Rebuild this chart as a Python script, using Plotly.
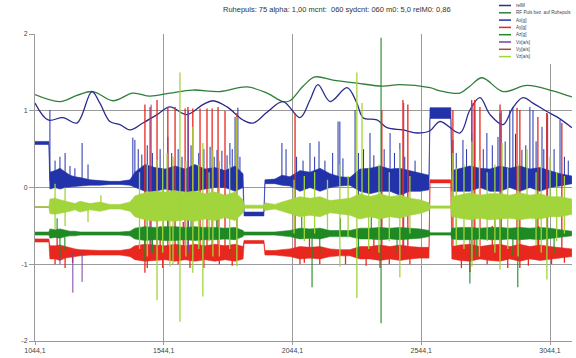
import numpy as np
import plotly.graph_objects as go

# ---------------- data ----------------
title_text = "Ruhepuls: 75 alpha: 1,00 mcnt:  060 sydcnt: 060 m0: 5,0 relM0: 0,86"
x_tickvals = [1044.1, 1544.1, 2044.1, 2544.1, 3044.1]
x_ticktext = ["1044,1", "1544,1", "2044,1", "2544,1", "3044,1"]
y_tickvals = [-2, -1, 0, 1, 2]
y_ticktext = ["-2", "-1", "0", "1", "2"]
x_range = [1044.1, 3129.5]

series_names = ["relM", "RF Puls bez. auf Ruhepuls", "Ax[g]", "Ay[g]", "Az[g]",
                "Vx[a/s]", "Vy[a/s]", "Vz[a/s]"]
series_colors = ["#2b2b8f", "#2f7f3a", "#2233aa", "#e8281e", "#1f8a24",
                 "#7b3fa6", "#a0522d", "#a2d43c"]

# smooth curves
relm_x = [1044, 1095, 1153, 1207, 1265, 1296, 1335, 1374, 1413, 1463, 1518, 1568, 1634,
          1696, 1735, 1790, 1852, 1891, 1945, 2007, 2073, 2112, 2143, 2190, 2256, 2294,
          2318, 2372, 2411, 2473, 2528, 2578, 2617, 2694, 2733, 2772, 2811, 2862, 2900,
          2939, 2978, 3032, 3071, 3129]
relm_y = [1.10, 0.88, 0.91, 0.84, 1.25, 1.10, 0.86, 0.82, 0.75, 0.84, 0.95, 1.05, 0.95,
          1.08, 1.13, 1.05, 0.88, 0.84, 0.98, 1.12, 0.91, 1.14, 1.34, 1.12, 1.30, 1.10,
          0.91, 0.88, 0.78, 0.75, 0.71, 0.74, 0.86, 0.71, 1.01, 1.17, 0.95, 0.82, 1.04,
          1.17, 1.10, 0.99, 0.92, 0.78]

rf_x = [1044, 1141, 1207, 1269, 1347, 1424, 1491, 1568, 1657, 1762, 1867, 1945, 2007,
        2034, 2085, 2131, 2201, 2294, 2395, 2461, 2578, 2617, 2694, 2733, 2780, 2862,
        2955, 3055, 3129]
rf_y = [1.21, 1.12, 1.20, 1.25, 1.13, 1.23, 1.19, 1.23, 1.27, 1.25, 1.31, 1.23, 1.12,
        1.13, 1.32, 1.44, 1.40, 1.36, 1.32, 1.34, 1.30, 1.26, 1.23, 1.32, 1.43, 1.25,
        1.33, 1.26, 1.18]

# envelope knots of the dense noisy signals
knots = [1044, 1098, 1102, 1122, 1141, 1161, 1180, 1199, 1219, 1258, 1296, 1335, 1374,
         1413, 1432, 1471, 1510, 1549, 1588, 1627, 1665, 1704, 1743, 1782, 1821, 1852,
         1856, 1933, 1937, 1976, 2003, 2034, 2073, 2112, 2151, 2190, 2228, 2267, 2306,
         2345, 2384, 2423, 2461, 2500, 2539, 2574, 2578, 2659, 2663, 2694, 2733, 2772,
         2811, 2850, 2888, 2927, 2966, 3005, 3044, 3083, 3129]

ax_lo = [.56, .56, -.02, 0, -.02, 0, .01, .01, .02, .03, .03, .04, .04, .03, 0, -.05,
         -.05, -.02, -.05, -.05, -.05, -.02, 0, 0, -.05, 0, -.37, -.37, .05, .05, .03,
         .02, -.05, 0, -.05, 0, .02, .03, -.05, -.08, -.05, -.05, -.10, -.05, -.05, -.03,
         .90, .90, -.05, -.05, -.05, 0, -.05, -.05, 0, -.05, 0, -.05, 0, .02, .05]
ax_hi = [.60, .60, .20, .22, .25, .20, .16, .14, .13, .10, .09, .08, .08, .10, .20, .30,
         .26, .24, .28, .24, .30, .24, .26, .22, .28, .18, -.32, -.32, .10, .11, .16,
         .14, .22, .20, .25, .18, .14, .13, .24, .25, .28, .24, .25, .22, .18, .16,
         1.04, 1.04, .22, .25, .28, .25, .24, .28, .25, .28, .24, .26, .22, .18, .15]

ay_lo = [-.71, -.71, -.93, -.93, -.95, -.92, -.91, -.90, -.89, -.88, -.88, -.88, -.88,
         -.90, -.94, -.96, -.95, -.94, -.96, -.94, -.96, -.94, -.96, -.94, -.96, -.93,
         -.73, -.73, -.88, -.88, -.89, -.90, -.93, -.92, -.93, -.90, -.89, -.89, -.93,
         -.93, -.95, -.93, -.95, -.93, -.92, -.92, .06, .06, -.93, -.95, -.96, -.93,
         -.95, -.96, -.93, -.96, -.93, -.95, -.93, -.92, -.90]
ay_hi = [-.67, -.67, -.76, -.76, -.75, -.77, -.79, -.80, -.81, -.82, -.82, -.82, -.82,
         -.80, -.76, -.74, -.75, -.76, -.74, -.76, -.74, -.76, -.74, -.76, -.74, -.77,
         -.69, -.69, -.82, -.82, -.81, -.80, -.77, -.78, -.77, -.80, -.81, -.81, -.77,
         -.77, -.75, -.77, -.75, -.77, -.78, -.78, .10, .10, -.77, -.75, -.74, -.77,
         -.75, -.74, -.77, -.74, -.77, -.75, -.77, -.78, -.80]

az_lo = [-.62, -.62, -.66, -.65, -.66, -.64, -.63, -.63, -.62, -.62, -.62, -.62, -.62,
         -.63, -.67, -.69, -.68, -.69, -.69, -.68, -.69, -.68, -.68, -.67, -.68, -.64,
         -.62, -.62, -.62, -.62, -.63, -.64, -.67, -.66, -.67, -.64, -.64, -.64, -.67,
         -.67, -.68, -.67, -.68, -.67, -.66, -.64, -.62, -.62, -.67, -.68, -.68, -.67,
         -.68, -.68, -.67, -.68, -.67, -.68, -.67, -.65, -.63]
az_hi = [-.58, -.58, -.54, -.55, -.54, -.56, -.57, -.57, -.58, -.58, -.58, -.58, -.58,
         -.57, -.53, -.51, -.52, -.51, -.51, -.52, -.51, -.52, -.52, -.53, -.52, -.56,
         -.58, -.58, -.58, -.58, -.57, -.56, -.53, -.54, -.53, -.56, -.56, -.56, -.53,
         -.53, -.52, -.53, -.52, -.53, -.54, -.56, -.59, -.59, -.53, -.52, -.52, -.53,
         -.52, -.52, -.53, -.52, -.53, -.52, -.53, -.55, -.57]

vz_lo = [-.26, -.26, -.34, -.35, -.34, -.32, -.31, -.29, -.32, -.29, -.31, -.28, -.28,
         -.31, -.38, -.42, -.44, -.43, -.44, -.42, -.44, -.41, -.43, -.39, -.43, -.33,
         -.27, -.27, -.30, -.28, -.31, -.34, -.38, -.36, -.38, -.33, -.34, -.36, -.41,
         -.38, -.41, -.38, -.40, -.36, -.34, -.30, -.27, -.27, -.38, -.40, -.42, -.40,
         -.42, -.41, -.40, -.42, -.40, -.41, -.38, -.38, -.35]
vz_hi = [-.25, -.25, -.15, -.14, -.16, -.18, -.19, -.21, -.18, -.21, -.19, -.22, -.22,
         -.19, -.11, -.07, -.05, -.06, -.04, -.07, -.05, -.08, -.06, -.10, -.06, -.16,
         -.23, -.23, -.20, -.22, -.19, -.16, -.12, -.14, -.12, -.17, -.16, -.14, -.08,
         -.12, -.08, -.12, -.10, -.14, -.16, -.20, -.24, -.24, -.12, -.10, -.07, -.10,
         -.08, -.08, -.10, -.07, -.10, -.08, -.12, -.12, -.15]

# individual spikes (x, tip value)
ax_spk_x = [1102, 1141, 1161, 1227, 1250, 1424, 1432, 1459, 1560, 1724, 1751, 1801, 1821,
            1832, 2003, 2019, 2112, 2147, 2221, 2228, 2287, 2345, 2423, 2461, 2667, 2706,
            2752, 2799, 2842, 2850, 2888, 2900, 2935, 2966, 2978, 3013, 3032, 3083,
            1122, 1180, 1199, 1445, 1480, 1500, 1530, 1575, 1600, 1615, 1650, 1680, 1700,
            1740, 1770, 1790, 1810, 1840, 2060, 2085, 2130, 2170, 2200, 2240, 2300, 2320,
            2360, 2400, 2440, 2480, 2520, 2680, 2720, 2740, 2785, 2820, 2870, 2910, 2950,
            2990, 3020, 3060, 3100, 3115, 2300, 2461, 1500]
ax_spk_y = [1.01, 0.40, 0.45, 0.58, 0.30, 0.65, 0.62, 0.43, 0.66, 0.53, 0.49, 0.58, 0.92,
            1.04, 0.58, 0.50, 0.58, 0.60, 0.86, 0.86, 1.01, 0.71, 0.71, 0.58, 0.62, 0.62,
            1.01, 0.71, 0.66, 0.97, 1.01, 1.05, 0.49, 1.05, 1.01, 0.79, 0.97, 0.88,
            0.35, 0.28, 0.25, 0.50, 0.55, 0.45, 0.50, 0.45, 0.50, 0.40, 0.55, 0.45, 0.50,
            0.40, 0.48, 0.42, 0.50, 0.40, 0.40, 0.35, 0.40, 0.35, 0.45, 0.38, 0.45, 0.50,
            0.42, 0.50, 0.45, 0.40, 0.35, 0.45, 0.50, 0.70, 0.50, 0.55, 0.60, 0.70, 0.55,
            0.60, 0.50, 0.50, 0.40, 0.35, -0.20, -0.25, -0.20]

ay_spk_x = [1471, 1491, 1518, 1560, 1588, 1627, 1638, 1657, 1685, 1712, 1732, 1755, 1782,
            1828, 2054, 2391, 2473, 2492, 2667, 2740, 2752, 2772, 2850, 2916, 2927, 2997,
            3032, 3090, 1471, 1646, 2073, 2384, 2733, 2927,
            1122, 1161, 1190, 1480, 1540, 1600, 1700, 1760, 1810, 2090, 2150, 2250, 2330,
            2420, 2500, 2700, 2800, 2880, 2960, 3050, 3100,
            1130, 1530, 1620, 2110, 2360, 2820, 3000]
ay_spk_y = [1.08, 1.05, 1.14, 1.05, 1.05, 1.03, 1.05, 1.03, 1.03, 1.03, 1.03, 1.05, 1.00,
            0.97, 0.97, 1.01, 1.14, 1.08, 1.01, 1.14, 1.14, 1.05, 1.08, 1.04, 1.01, 0.92,
            0.97, 0.84, -1.11, -1.05, -1.00, -1.05, -1.10, -1.05,
            -1.00, -1.05, -0.98, -1.05, -1.05, -1.00, -1.05, -1.00, -1.02, -0.98, -1.00,
            -1.00, -1.02, -1.00, -1.00, -1.05, -1.00, -1.05, -1.02, -1.00, -0.98,
            -0.55, -0.50, -0.45, -0.60, -0.55, -0.50, -0.50]

vx_spk_x = [1141, 1191, 1227, 1495, 1640, 2476, 2745, 2855, 3035]
vx_spk_y = [-1.00, -1.37, -1.23, 1.08, 1.00, 1.10, 1.10, 1.00, 0.95]

az_spk_x = [2388, 2388, 2120, 2733, 2919, 1141, 1471,
            1130, 1160, 1480, 1500, 1560, 1600, 1650, 1700, 1750, 1800, 2080, 2150, 2230,
            2300, 2350, 2450, 2680, 2760, 2830, 2900, 2990, 3060]
az_spk_y = [1.95, -1.77, -1.30, -1.25, -1.30, -0.90, -0.95,
            -0.40, -0.80, -0.35, -0.85, -0.30, -0.90, -0.35, -0.85, -0.30, -0.90, -0.38,
            -0.85, -0.40, -0.90, -0.35, -0.85, -0.40, -0.90, -0.35, -0.88, -0.40, -0.85]

vz_spk_x = [1518, 1518, 1557, 1568, 1607, 1607, 1657, 1657, 1696, 1696, 1735, 1735, 1828,
            1828, 2228, 2228, 2294, 2294, 2314, 2461, 2461, 2667, 2741, 2741, 2858, 2850,
            2955, 3032, 3044,
            1122, 1122, 1161, 1161, 1250, 1300, 1450, 1450, 1480, 1480, 1540, 1540, 1580,
            1580, 1630, 1630, 1680, 1680, 1720, 1720, 1760, 1760, 1800, 1800, 2050, 2050,
            2090, 2090, 2130, 2130, 2180, 2180, 2260, 2260, 2340, 2340, 2380, 2380, 2420,
            2420, 2500, 2500, 2680, 2680, 2710, 2710, 2770, 2770, 2800, 2800, 2830, 2830,
            2880, 2880, 2920, 2920, 2990, 2990, 3010, 3010, 3070, 3070, 3100, 3100]
vz_spk_y = [0.36, -1.47, 0.45, -1.03, 1.50, -1.75, 0.79, -1.11, 0.58, -1.42, 0.49, -0.90,
            0.92, -1.03, 0.30, -1.03, 1.50, -1.44, 1.10, 0.50, -1.17, 0.45, 0.60, -1.03,
            0.58, -1.07, 0.50, -1.20, 0.40,
            0.05, -0.55, 0.00, -0.50, -0.45, -0.10, 0.20, -0.80, 0.30, -0.90, 0.25, -0.85,
            0.40, -1.00, 0.35, -0.90, 0.30, -0.80, 0.20, -0.70, 0.35, -0.90, 0.30, -0.80,
            0.10, -0.60, 0.15, -0.70, 0.20, -0.60, 0.10, -0.55, 0.15, -0.65, 0.25, -0.80,
            0.30, -0.85, 0.20, -0.70, 0.15, -0.60, 0.25, -0.75, 0.30, -0.80, 0.35, -0.90,
            0.20, -0.70, 0.30, -0.85, 0.25, -0.80, 0.30, -0.90, 0.20, -0.75, 0.30, -0.85,
            0.20, -0.70, 0.15, -0.60]

vy_x = [1044, 3129]
vy_y = [-0.255, -0.255]

# ---------------- figure ----------------
fig = go.Figure()


def band(lo, hi, color, name):
    fig.add_trace(go.Scatter(
        x=knots + knots[::-1], y=hi + lo[::-1], fill="toself", fillcolor=color,
        mode="lines", line=dict(color=color, width=0.6), name=name,
        showlegend=False, hoverinfo="skip"))


def spikes(sx, sy, lo, hi, color, name, width=1.0):
    mid = (np.array(lo) + np.array(hi)) / 2.0
    base = np.interp(sx, knots, mid)
    xs, ys = [], []
    for x, b, t in zip(sx, base, sy):
        xs += [x, x, None]
        ys += [float(b), t, None]
    fig.add_trace(go.Scatter(x=xs, y=ys, mode="lines", name=name,
                             line=dict(color=color, width=width),
                             showlegend=False, hoverinfo="skip"))


# smooth curves
fig.add_trace(go.Scatter(x=rf_x, y=rf_y, mode="lines", line_shape="spline",
                         line=dict(color=series_colors[1], width=1.3),
                         name=series_names[1], showlegend=False))
fig.add_trace(go.Scatter(x=relm_x, y=relm_y, mode="lines", line_shape="spline",
                         line=dict(color=series_colors[0], width=1.3),
                         name=series_names[0], showlegend=False))

# Ax
band(ax_lo, ax_hi, series_colors[2], series_names[2])
spikes(ax_spk_x, ax_spk_y, ax_lo, ax_hi, series_colors[2], series_names[2])
# Ay
band(ay_lo, ay_hi, series_colors[3], series_names[3])
spikes(ay_spk_x, ay_spk_y, ay_lo, ay_hi, series_colors[3], series_names[3], 1.3)
# Vx
spikes(vx_spk_x, vx_spk_y, ay_lo, ay_hi, series_colors[5], series_names[5])
# Az
band(az_lo, az_hi, series_colors[4], series_names[4])
spikes(az_spk_x, az_spk_y, az_lo, az_hi, series_colors[4], series_names[4], 1.1)
# Vy
fig.add_trace(go.Scatter(x=vy_x, y=vy_y, mode="lines",
                         line=dict(color=series_colors[6], width=1.2),
                         name=series_names[6], showlegend=False))
# Vz
band(vz_lo, vz_hi, series_colors[7], series_names[7])
spikes(vz_spk_x, vz_spk_y, vz_lo, vz_hi, series_colors[7], series_names[7], 1.3)

W, H = 576, 358
ML, MR, MT, MB = 35, 4, 34, 17
pw, ph = W - ML - MR, H - MT - MB


def px(xp):
    return (xp - ML) / pw


def py(yp):
    return 1 - (yp - MT) / ph


shapes = [dict(type="rect", xref="paper", yref="paper", x0=px(492), x1=px(577),
               y0=py(64), y1=py(-1), fillcolor="white", line=dict(width=0),
               layer="above")]
annotations = [dict(text=title_text, xref="paper", yref="paper", x=px(337), y=py(10),
                    xanchor="center", yanchor="middle", showarrow=False,
                    font=dict(family="Liberation Sans, Arial", size=7.5, color="#333"))]
for i, (nm, col) in enumerate(zip(series_names, series_colors)):
    yy = 5.5 + 7.3 * i
    shapes.append(dict(type="line", xref="paper", yref="paper", x0=px(499), x1=px(511),
                       y0=py(yy), y1=py(yy), line=dict(color=col, width=1.5),
                       layer="above"))
    annotations.append(dict(text=nm, xref="paper", yref="paper", x=px(514), y=py(yy),
                            xanchor="left", yanchor="middle", showarrow=False,
                            font=dict(family="Liberation Sans, Arial", size=4.6,
                                      color="#444")))

fig.update_layout(
    width=W, height=H, margin=dict(l=ML, r=MR, t=MT, b=MB, pad=0),
    paper_bgcolor="white", plot_bgcolor="white", showlegend=False,
    shapes=shapes, annotations=annotations,
    xaxis=dict(range=x_range, tickvals=x_tickvals, ticktext=x_ticktext,
               showgrid=True, gridcolor="#9a9a9a", gridwidth=1, zeroline=False,
               showline=True, linecolor="#9a9a9a", ticks="outside", ticklen=3,
               tickcolor="#9a9a9a",
               tickfont=dict(family="Liberation Sans, Arial", size=7, color="#444")),
    yaxis=dict(range=[-2, 2], tickvals=y_tickvals, ticktext=y_ticktext,
               showgrid=True, gridcolor="#9a9a9a", gridwidth=1, zeroline=False,
               showline=True, linecolor="#9a9a9a", ticks="outside", ticklen=5,
               tickcolor="#9a9a9a",
               tickfont=dict(family="Liberation Sans, Arial", size=7, color="#444")),
)

fig.write_html("out.html")
